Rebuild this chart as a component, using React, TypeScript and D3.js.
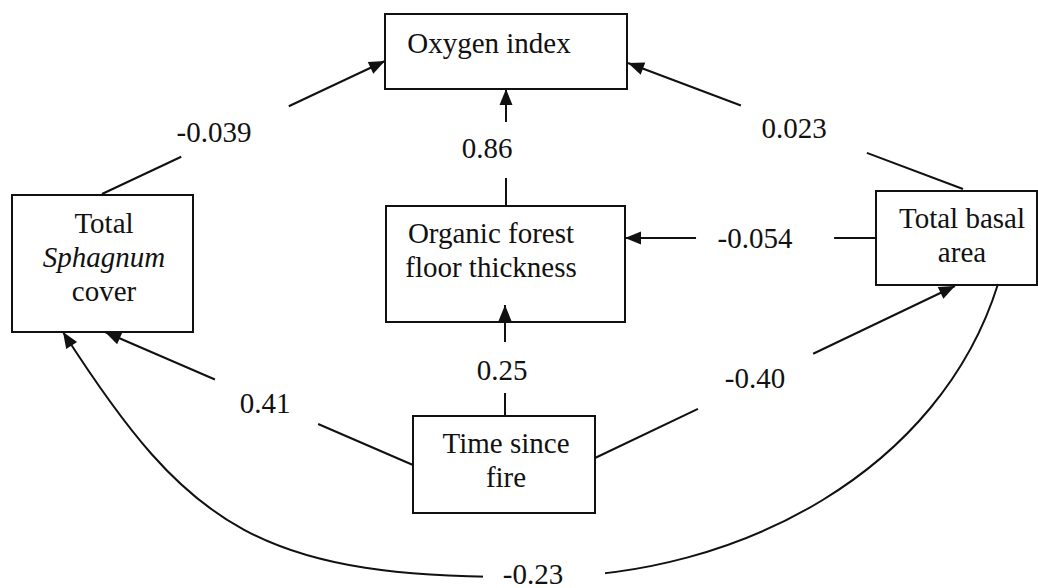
import React from "react";
import * as d3 from "d3";

// ---- data ----
const nodeNames = ["oxygen", "sphagnum", "organic", "basal", "time"];
const nodeLabels: string[][] = [
  ["Oxygen index"],
  ["Total", "Sphagnum", "cover"],
  ["Organic forest", "floor thickness"],
  ["Total basal", "area"],
  ["Time since", "fire"],
];
const italicLabels = ["Sphagnum"];
const pathSources = ["sphagnum", "basal", "organic", "basal", "time", "time", "time", "basal"];
const pathTargets = ["oxygen", "oxygen", "oxygen", "organic", "organic", "sphagnum", "basal", "sphagnum"];
const pathCoefficients = ["-0.039", "0.023", "0.86", "-0.054", "0.25", "0.41", "-0.40", "-0.23"];

// ---- layout (box extents: x0, y0, x1, y1; text centre x, first baseline) ----
const boxLayout: [number, number, number, number][] = [
  [385, 14, 627, 89],
  [12, 195, 193, 332],
  [386, 206, 625, 322],
  [876, 191, 1037, 285],
  [413, 416, 595, 513],
];
const textLayout: [number, number][] = [
  [489, 53],
  [104, 233],
  [491, 243],
  [962, 228],
  [506, 453],
];
// straight edges: start, tip, gap fractions, label position
const edgeLayout = [
  { p0: [102, 194], p1: [385, 61], gap: [0.28, 0.66], lab: [214, 142] },
  { p0: [963, 189], p1: [628, 63], gap: [0.287, 0.663], lab: [794, 138] },
  { p0: [506, 206], p1: [506, 89], gap: [0.24, 0.718], lab: [487, 158] },
  { p0: [876, 238], p1: [625, 238], gap: [0.167, 0.717], lab: [755, 248] },
  { p0: [505, 416], p1: [505, 305], gap: [0.207, 0.667], lab: [502, 380] },
  { p0: [413, 465], p1: [105, 332], gap: [0.308, 0.643], lab: [265, 413] },
  { p0: [595, 458], p1: [955, 286], gap: [0.286, 0.606], lab: [755, 388] },
];
// curved edge: two cubic pieces
const curveLayout = {
  start: [998, 284],
  c1: [940, 470],
  c2: [740, 577],
  mid: [540, 577],
  c3: [260, 580],
  c4: [190, 530],
  end: [63, 332],
  gapX: [483, 605],
  lab: [533, 584],
};

const FS = 29;
const LINE_H = 34;
const SW = 2;

function arrowHead(tip: number[], from: number[]) {
  const dx = tip[0] - from[0];
  const dy = tip[1] - from[1];
  const len = Math.hypot(dx, dy);
  const ux = dx / len, uy = dy / len;
  const L = 16, W = 6.5;
  const bx = tip[0] - ux * L, by = tip[1] - uy * L;
  const pts: [number, number][] = [
    [tip[0], tip[1]],
    [bx - uy * W, by + ux * W],
    [bx + uy * W, by - ux * W],
  ];
  return (d3.line()(pts) as string) + "Z";
}

export default function App() {
  const line = d3.line();
  const lerp = (a: number[], b: number[], t: number): [number, number] => [
    a[0] + (b[0] - a[0]) * t,
    a[1] + (b[1] - a[1]) * t,
  ];

  const cp = d3.path();
  const c = curveLayout;
  cp.moveTo(c.start[0], c.start[1]);
  cp.bezierCurveTo(c.c1[0], c.c1[1], c.c2[0], c.c2[1], c.mid[0], c.mid[1]);
  cp.bezierCurveTo(c.c3[0], c.c3[1], c.c4[0], c.c4[1], c.end[0], c.end[1]);

  return (
    <svg
      width={1038}
      height={588}
      style={{ position: "absolute", left: 0, top: 0, background: "#fff" }}
    >
      <style>{`.lbl { font-family: "Liberation Serif", serif; font-size: ${FS}px; fill: #111; }`}</style>
      <rect x={0} y={0} width={1038} height={588} fill="#fff" />
      {/* boxes */}
      {nodeNames.map((n, i) => {
        const [x0, y0, x1, y1] = boxLayout[i];
        const [tx, ty] = textLayout[i];
        return (
          <g key={n}>
            <rect x={x0} y={y0} width={x1 - x0} height={y1 - y0} fill="none" stroke="#111" strokeWidth={SW} />
            {nodeLabels[i].map((s, j) => (
              <text
                key={j}
                className="lbl"
                x={tx}
                y={ty + j * LINE_H}
                textAnchor="middle"
                fontStyle={italicLabels.includes(s) ? "italic" : "normal"}
              >
                {s}
              </text>
            ))}
          </g>
        );
      })}
      {/* straight paths */}
      {edgeLayout.map((e, i) => {
        const a = e.p0, b = e.p1;
        const g0 = lerp(a, b, e.gap[0]);
        const g1 = lerp(a, b, e.gap[1]);
        return (
          <g key={pathSources[i] + pathTargets[i]}>
            <path d={line([[a[0], a[1]], g0]) as string} stroke="#111" strokeWidth={SW} fill="none" />
            <path d={line([g1, [b[0], b[1]]]) as string} stroke="#111" strokeWidth={SW} fill="none" />
            <path d={arrowHead(b, a)} fill="#111" />
            <text className="lbl" x={e.lab[0]} y={e.lab[1]} textAnchor="middle">
              {pathCoefficients[i]}
            </text>
          </g>
        );
      })}
      {/* curved path */}
      <g>
        <path d={cp.toString()} stroke="#111" strokeWidth={SW} fill="none" />
        <rect x={c.gapX[0]} y={555} width={c.gapX[1] - c.gapX[0]} height={33} fill="#fff" />
        <path d={arrowHead(c.end, c.c4)} fill="#111" />
        <text className="lbl" x={c.lab[0]} y={c.lab[1]} textAnchor="middle">
          {pathCoefficients[7]}
        </text>
      </g>
    </svg>
  );
}
